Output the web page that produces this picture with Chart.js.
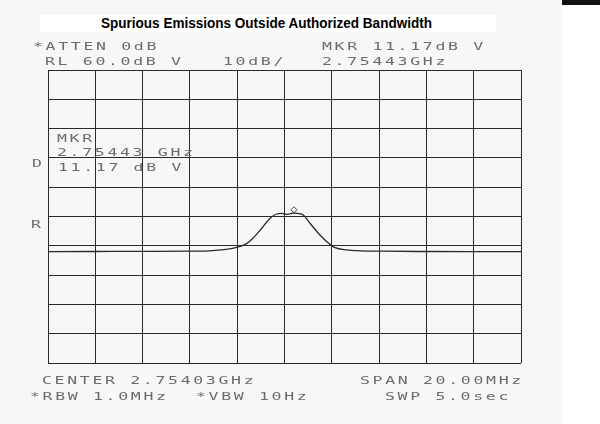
<!DOCTYPE html>
<html>
<head>
<meta charset="utf-8">
<script src="https://cdn.jsdelivr.net/npm/chart.js@4/dist/chart.umd.min.js"></script>
<style>
  html, body { margin: 0; padding: 0; }
  body { width: 600px; height: 424px; position: relative; overflow: hidden; background: #f7f7f7; }
  #strip { position: absolute; left: 562px; top: 0; width: 38px; height: 424px; background: #fff; }
  #bar { position: absolute; left: 562px; top: 0; width: 38px; height: 5px; background: #111; }
  #titleBox { position: absolute; left: 40px; top: 15px; width: 456px; height: 17px; background: #fff; }
  #title { position: absolute; left: 101px; top: 15px; white-space: nowrap; transform-origin: 0 0;
           font-family: "Liberation Sans Narrow", "Liberation Sans", Arial, sans-serif;
           font-weight: bold; font-size: 14px; line-height: 16px; color: #000; }
  #wrap { position: absolute; left: 0; top: 0; width: 600px; height: 424px; }
  .sa { position: absolute; white-space: pre; transform-origin: 0 0; transform: scaleX(1.5);
        font-family: "DejaVu Sans Mono", "Liberation Mono", monospace; font-size: 11px;
        line-height: 11px; letter-spacing: 1.78px; color: #6c6c6c; }
</style>
</head>
<body>
<div id="strip"></div>
<div id="bar"></div>
<div id="titleBox"></div>
<div id="title">Spurious Emissions Outside Authorized Bandwidth</div>
<div id="wrap"><canvas id="chart" width="600" height="424"></canvas></div>
<script>
// spectrum analyzer settings
const centerGHz = 2.75403;
const spanMHz = 20;
const refLevelDb = 60;
const dbPerDiv = 10;
const markerGHz = 2.75443;
const markerDb = 11.17;
const markerOffsetMHz = 0.4;
const markerSymbolDb = 12.3;

// trace: offset from center (MHz) and level (dB uV)
const freqOffsetMHz = [-10, -8, -6, -4, -3.2, -2.7, -2.2, -1.7, -1.33, -0.96, -0.61, -0.33, -0.12, 0.09, 0.3, 0.4, 0.56, 0.79, 1.08, 1.43, 1.79, 2.14, 2.63, 3.2, 4.2, 6, 8, 10];
const levelDb = [-2.0, -1.95, -1.9, -1.85, -1.7, -1.4, -0.85, 0.3, 2.6, 6.0, 9.4, 10.85, 11.05, 10.75, 11.1, 11.17, 11.05, 10.5, 7.7, 4.3, 1.4, -0.65, -1.4, -1.7, -1.85, -1.95, -2.0, -2.0];

// annotation texts [text, left x, baseline y]
const labels = [
  ['*ATTEN 0dB', 33, 50],
  ['MKR 11.17dB V', 322, 50],
  ['RL 60.0dB V', 45, 65],
  ['10dB/', 223, 65],
  ['2.75443GHz', 322, 65],
  ['MKR', 57, 142],
  ['2.75443 GHz', 57, 156],
  ['11.17 dB V', 58, 171],
  ['D', 32, 167],
  ['R', 31, 228],
  ['CENTER 2.75403GHz', 42, 384],
  ['SPAN 20.00MHz', 360, 384],
  ['*RBW 1.0MHz', 30, 400],
  ['*VBW 10Hz', 196, 400],
  ['SWP 5.0sec', 385, 400]
];

labels.forEach(function (l) {
  const d = document.createElement('div');
  d.className = 'sa';
  d.textContent = l[0];
  d.style.left = l[1] + 'px';
  d.style.top = (l[2] - 9.3) + 'px';
  document.body.appendChild(d);
});

// stretch title to the width seen in the scan
const t = document.getElementById('title');
t.style.transform = 'scaleX(' + (331 / t.getBoundingClientRect().width) + ')';

const ctx = document.getElementById('chart').getContext('2d');
new Chart(ctx, {
  type: 'line',
  data: {
    datasets: [{
      label: 'Trace',
      data: freqOffsetMHz.map(function (f, i) { return { x: f, y: levelDb[i] }; }),
      borderColor: '#2a2a2a',
      borderWidth: 1.3,
      pointRadius: 0,
      cubicInterpolationMode: 'monotone',
      fill: false
    }, {
      label: 'Marker',
      data: [{ x: markerOffsetMHz, y: markerSymbolDb }],
      showLine: false,
      pointStyle: 'rectRot',
      pointRadius: 3,
      borderColor: '#444',
      borderWidth: 1,
      backgroundColor: 'rgba(0,0,0,0)'
    }]
  },
  options: {
    responsive: false,
    animation: false,
    layout: { padding: { left: 48, top: 70, right: 79, bottom: 61 } },
    plugins: { legend: { display: false }, tooltip: { enabled: false } },
    scales: {
      x: {
        type: 'linear',
        min: -spanMHz / 2, max: spanMHz / 2,
        ticks: { display: false, stepSize: 2 },
        grid: { color: '#2a2a2a', lineWidth: 1, drawTicks: false },
        border: { display: false }
      },
      y: {
        min: refLevelDb - 10 * dbPerDiv, max: refLevelDb,
        ticks: { display: false, stepSize: dbPerDiv },
        grid: { color: '#2a2a2a', lineWidth: 1, drawTicks: false },
        border: { display: false }
      }
    }
  }
});
</script>
</body>
</html>
